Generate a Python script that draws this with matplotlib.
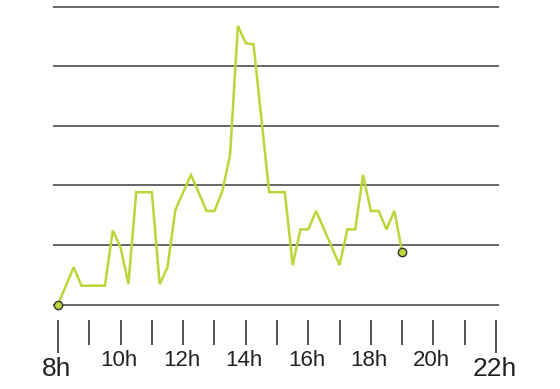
import matplotlib
matplotlib.use("Agg")
import matplotlib.pyplot as plt

# Time in hours (decimal) and values (grid units 0..100)
times = [8.00, 8.50, 8.75, 9.50, 9.75, 10.00, 10.25, 10.50, 11.00, 11.25, 11.50,
         11.75, 12.25, 12.75, 13.00, 13.25, 13.50, 13.75, 14.00, 14.25, 14.75,
         15.25, 15.50, 15.75, 16.00, 16.25, 17.00, 17.25, 17.50, 17.75, 18.00,
         18.25, 18.50, 18.75, 19.00]
values = [0.0, 12.5, 6.3, 6.3, 24.8, 19.2, 6.9, 37.7, 37.7, 6.8, 12.5,
          31.7, 43.5, 31.4, 31.4, 37.9, 50.2, 93.5, 87.7, 87.3, 37.7,
          37.7, 13.2, 25.2, 25.2, 31.4, 13.2, 25.2, 25.2, 43.5, 31.4,
          31.4, 25.2, 31.4, 17.6]
grid_levels = [0, 20, 40, 60, 80, 100]
tick_hours = list(range(8, 23))
label_hours = [10, 12, 14, 16, 18, 20]
end_labels = [8, 22]

W, H = 560, 389
fig = plt.figure(figsize=(W / 100, H / 100), dpi=100)
ax = fig.add_axes([0, 0, 1, 1])
ax.set_axis_off()

px_per_h = (496 - 58) / 14.0
x0 = 8 - 58 / px_per_h
x1 = 8 + (W - 58) / px_per_h
px_per_u = 59.6 / 20.0
ytop = 304.5 / px_per_u
ybot = -(H - 304.5) / px_per_u
ax.set_xlim(x0, x1)
ax.set_ylim(ybot, ytop)

gx0 = 8 - 5 / px_per_h
gx1 = 8 + (498.7 - 58) / px_per_h
for g in grid_levels:
    ax.plot([gx0, gx1], [g, g], color="#5a5a5a", lw=1.3, solid_capstyle="butt", zorder=1)

ax.plot(times, values, color="#bcd63a", lw=1.8, zorder=3, solid_joinstyle="miter")
ax.plot([times[0], times[-1]], [values[0], values[-1]], linestyle="none", marker="o",
        markersize=6, markerfacecolor="#bcd63a", markeredgecolor="#333333",
        markeredgewidth=1.0, zorder=4)

def ypx(p):
    return (304.5 - p) / px_per_u

for h in tick_hours:
    bottom = 353 if h in end_labels else 345
    ax.plot([h, h], [ypx(320), ypx(bottom)], color="#333333", lw=1.2,
            solid_capstyle="butt", zorder=2)

for h in label_hours:
    ax.text(h - 0.05, ypx(360), f"{h}h", ha="center", va="center",
            fontsize=16, family="Liberation Sans", color="#222222")
for h in end_labels:
    ax.text(h - 0.05, ypx(369.5), f"{h}h", ha="center", va="center",
            fontsize=19, family="Liberation Sans", color="#222222")

fig.savefig("out.png", dpi=100)
